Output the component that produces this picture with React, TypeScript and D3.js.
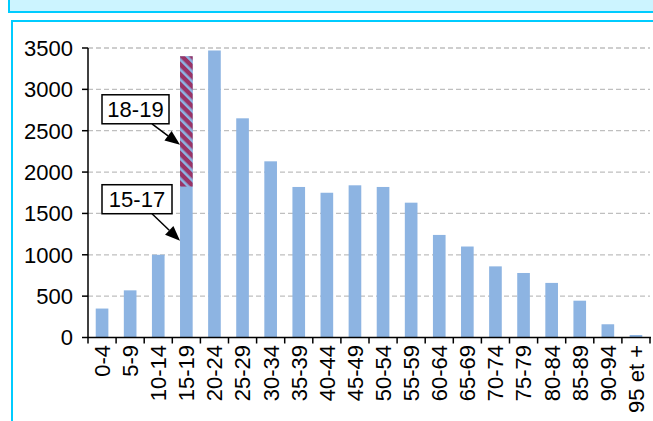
import React, { useEffect, useRef } from 'react'
import * as d3 from 'd3'

const ageGroups = [
  '0-4', '5-9', '10-14', '15-19', '20-24', '25-29', '30-34', '35-39', '40-44', '45-49',
  '50-54', '55-59', '60-64', '65-69', '70-74', '75-79', '80-84', '85-89', '90-94', '95 et +'
]
const counts = [
  350, 570, 1000, 3400, 3470, 2650, 2130, 1820, 1750, 1840,
  1820, 1630, 1240, 1100, 860, 780, 660, 445, 160, 30
]
// 15-19 split into 15-17 (plain) and 18-19 (hatched on top)
const splitGroup = '15-19'
const value15to17 = 1825
const yTicks = [0, 500, 1000, 1500, 2000, 2500, 3000, 3500]
const annotations = [
  { label: '18-19', pointAt: 2330 },
  { label: '15-17', pointAt: 1170 }
]

export default function App() {
  const svgRef = useRef<SVGSVGElement>(null)

  useEffect(() => {
    const svg = d3.select(svgRef.current)
    svg.selectAll('*').remove()

    const width = 653
    const height = 421
    const font = 'Arial, "Liberation Sans", sans-serif'
    const fontSize = '22px'
    const cyan = '#00CCFF'

    svg.attr('width', width).attr('height', height)

    // frames
    svg.append('rect')
      .attr('x', 9).attr('y', -5).attr('width', width + 10).attr('height', 17)
      .attr('fill', '#CCF4FF').attr('stroke', cyan).attr('stroke-width', 2)
    svg.append('rect')
      .attr('x', 12).attr('y', 21).attr('width', width + 10).attr('height', height)
      .attr('fill', '#fff').attr('stroke', cyan).attr('stroke-width', 2)

    const x = d3.scaleBand<string>().domain(ageGroups).range([88, 650]).paddingInner(0.55).paddingOuter(0.275)
    const y = d3.scaleLinear().domain([0, 3500]).range([337.5, 48])

    const defs = svg.append('defs')
    const pattern = defs.append('pattern')
      .attr('id', 'hatch')
      .attr('patternUnits', 'userSpaceOnUse')
      .attr('width', 7).attr('height', 7)
      .attr('patternTransform', 'rotate(-45)')
    pattern.append('rect').attr('width', 7).attr('height', 7).attr('fill', '#993366')
    pattern.append('rect').attr('width', 2.6).attr('height', 7).attr('fill', '#8DB4E2')

    // gridlines
    svg.append('g')
      .selectAll('line')
      .data(yTicks.filter(d => d > 0))
      .join('line')
      .attr('x1', 88).attr('x2', 650)
      .attr('y1', d => y(d)).attr('y2', d => y(d))
      .attr('stroke', '#BFBFBF').attr('stroke-width', 1.3)
      .attr('stroke-dasharray', '5,3')

    // bars
    svg.append('g')
      .selectAll('rect')
      .data(ageGroups.map((g, i) => ({ g, v: counts[i] })))
      .join('rect')
      .attr('x', d => x(d.g)!)
      .attr('width', x.bandwidth())
      .attr('y', d => y(d.v))
      .attr('height', d => y(0) - y(d.v))
      .attr('fill', '#8DB4E2')

    const splitIdx = ageGroups.indexOf(splitGroup)
    svg.append('rect')
      .attr('x', x(splitGroup)!)
      .attr('width', x.bandwidth())
      .attr('y', y(counts[splitIdx]))
      .attr('height', y(value15to17) - y(counts[splitIdx]))
      .attr('fill', 'url(#hatch)')

    // y axis
    const axisG = svg.append('g')
    axisG.append('line')
      .attr('x1', 88).attr('x2', 88).attr('y1', y(3500)).attr('y2', y(0))
      .attr('stroke', '#000').attr('stroke-width', 1.5)
    axisG.selectAll('.ytick')
      .data(yTicks)
      .join('line')
      .attr('x1', 82).attr('x2', 88)
      .attr('y1', d => y(d)).attr('y2', d => y(d))
      .attr('stroke', '#000').attr('stroke-width', 1.5)
    axisG.selectAll('.ylab')
      .data(yTicks)
      .join('text')
      .attr('x', 73).attr('y', d => y(d))
      .attr('dy', '0.36em')
      .attr('text-anchor', 'end')
      .style('font-family', font).style('font-size', fontSize).style('fill', '#000')
      .text(d => d)

    // x axis
    axisG.append('line')
      .attr('x1', 88).attr('x2', 651).attr('y1', y(0)).attr('y2', y(0))
      .attr('stroke', '#000').attr('stroke-width', 1.5)
    const step = x.step()
    const boundaries = ageGroups.map(g => x(g)! - (step - x.bandwidth()) / 2)
    boundaries.push(650)
    axisG.selectAll('.xtick')
      .data(boundaries)
      .join('line')
      .attr('x1', d => d).attr('x2', d => d)
      .attr('y1', y(0)).attr('y2', y(0) + 6)
      .attr('stroke', '#000').attr('stroke-width', 1.5)
    axisG.selectAll('.xlab')
      .data(ageGroups)
      .join('text')
      .attr('transform', d => `translate(${x(d)! + x.bandwidth() / 2}, 345) rotate(-90)`)
      .attr('dy', '0.36em')
      .attr('text-anchor', 'end')
      .style('font-family', font).style('font-size', fontSize).style('fill', '#000')
      .text(d => d)

    // annotations: callout boxes with arrows
    const tipX = x(splitGroup)!
    annotations.forEach(a => {
      const tipY = y(a.pointAt)
      const boxW = a.label === '15-17' ? 70 : 67
      const boxH = 29
      const boxX = 102
      const boxY = tipY - 21 - boxH - (a.label === '15-17' ? 6 : 0)
      const tailX = boxX + 50
      const tailY = boxY + boxH
      const ang = Math.atan2(tipY - tailY, tipX - tailX)
      const headLen = 15
      const headHalf = 6
      const bx = tipX - headLen * Math.cos(ang)
      const by = tipY - headLen * Math.sin(ang)
      svg.append('line')
        .attr('x1', tailX).attr('y1', tailY)
        .attr('x2', bx).attr('y2', by)
        .attr('stroke', '#000').attr('stroke-width', 1.5)
      svg.append('path')
        .attr('d', d3.line()([
          [tipX, tipY],
          [bx + headHalf * Math.sin(ang), by - headHalf * Math.cos(ang)],
          [bx - headHalf * Math.sin(ang), by + headHalf * Math.cos(ang)]
        ]) + 'Z')
        .attr('fill', '#000')
      svg.append('rect')
        .attr('x', boxX).attr('y', boxY).attr('width', boxW).attr('height', boxH)
        .attr('fill', '#fff').attr('stroke', '#000').attr('stroke-width', 1.5)
      svg.append('text')
        .attr('x', boxX + boxW / 2).attr('y', boxY + boxH / 2)
        .attr('dy', '0.36em')
        .attr('text-anchor', 'middle')
        .style('font-family', font).style('font-size', fontSize).style('fill', '#000')
        .text(a.label)
    })
  }, [])

  return (
    <div style={{ position: 'absolute', left: 0, top: 0 }}>
      <svg ref={svgRef} style={{ display: 'block' }} />
    </div>
  )
}
